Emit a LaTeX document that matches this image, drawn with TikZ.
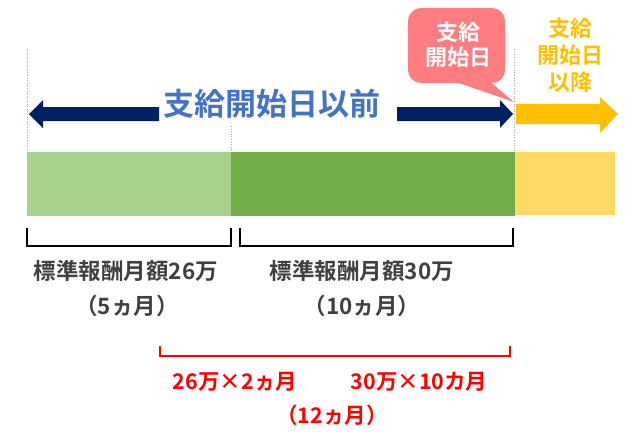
\documentclass[tikz,border=0pt]{standalone}
\usepackage{fontspec}
\newfontfamily\jp{Noto Sans CJK JP Bold}
\definecolor{navy}{HTML}{002060}
\definecolor{bluetext}{HTML}{4472C4}
\definecolor{lightgreen}{HTML}{A9D18E}
\definecolor{darkgreen}{HTML}{70AD47}
\definecolor{yellowbar}{HTML}{FFD966}
\definecolor{yellowarrow}{HTML}{FFC000}
\definecolor{pink}{HTML}{FF7C80}
\definecolor{graytext}{HTML}{404040}
\tikzset{
  guide/.style={draw=gray!70, dotted, line width=0.6pt},
  bracketline/.style={line width=1.4pt},
  graylabel/.style={text=graytext, font={\jp\fontsize{22.5}{25}\selectfont}, inner sep=0pt},
  redlabel/.style={text=red, font={\jp\fontsize{21.5}{24}\selectfont}, inner sep=0pt},
}
\begin{document}
\begin{tikzpicture}[x=1pt,y=-1pt]
\useasboundingbox (0,0) rectangle (632,440);
% bars
\fill[lightgreen] (27,152) rectangle (231,216);
\fill[darkgreen] (231,152) rectangle (515,216);
\fill[yellowbar] (515,152) rectangle (615,215);
% guides
\draw[guide] (27,49) -- (27,152);
\draw[guide] (231,126) -- (231,152);
\draw[guide] (514,49) -- (514,152);
% navy arrow (two pieces)
\fill[navy] (29,114) -- (43,100) -- (43,107) -- (159,107) -- (159,121) -- (43,121) -- (43,128) -- cycle;
\fill[navy] (513,114) -- (500,100) -- (500,107) -- (397,107) -- (397,121) -- (500,121) -- (500,128) -- cycle;
\node[text=bluetext, font={\jp\fontsize{31}{34}\selectfont}, inner sep=0pt] (before) at (272,104) {支給開始日以前};
% yellow arrow
\fill[yellowarrow] (516,104) -- (600,104) -- (600,97) -- (618,114) -- (600,133) -- (600,124) -- (516,124) -- cycle;
\node[text=yellowarrow, font={\jp\fontsize{22}{27}\selectfont}, align=center, inner sep=0pt] (after) at (570,55) {支給\\開始日\\以降};
% pink callout
\fill[pink, rounded corners=13pt] (408,8) rectangle (505,83);
\fill[pink] (450,80) -- (488,80) -- (514,102) -- cycle;
\node[text=white, font={\jp\fontsize{22}{25}\selectfont}, align=center, inner sep=0pt] (start) at (458,45) {支給\\開始日};
% black brackets
\draw[bracketline] (27,228) -- (27,246) -- (231,246) -- (231,228);
\draw[bracketline] (240,228) -- (240,246) -- (513,246) -- (513,228);
\node[graylabel] (l26) at (126,271) {標準報酬月額26万};
\node[graylabel] (l5) at (127,306) {（5ヵ月）};
\node[graylabel] (l30) at (362,271) {標準報酬月額30万};
\node[graylabel] (l10) at (362,306) {（10ヵ月）};
% red bracket
\draw[bracketline, red] (160,346) -- (160,356) -- (510,356) -- (510,346);
\node[redlabel] (r1) at (235,382) {26万×2ヵ月};
\node[redlabel] (r2) at (419,382) {30万×10カ月};
\node[redlabel] (r3) at (332,415) {（12ヵ月）};
\end{tikzpicture}
\end{document}
